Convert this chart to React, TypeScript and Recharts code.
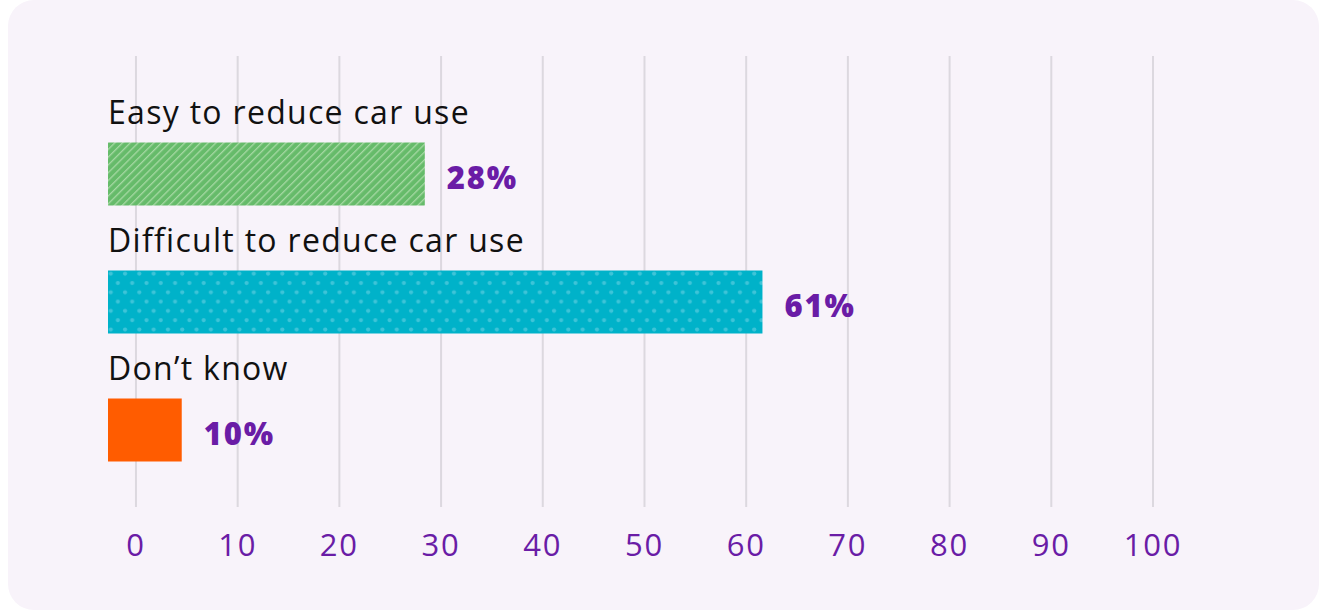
import React from "react";
import { BarChart, Bar, XAxis, YAxis, CartesianGrid, Cell, LabelList } from "recharts";

const categories = ["Easy to reduce car use", "Difficult to reduce car use", "Don\u2019t know"];
const barStarts = [-2.75, -2.75, -2.75];
const barEnds = [28.4, 61.6, 4.5];
const valueLabels = ["28%", "61%", "10%"];
const xTicks = [0, 10, 20, 30, 40, 50, 60, 70, 80, 90, 100];
const fills = ["url(#hatchGreen)", "url(#dotsTeal)", "#ff5c00"];

const data = categories.map((name, i) => ({
  name,
  range: [barStarts[i], barEnds[i]],
  label: valueLabels[i],
}));

const PURPLE = "#6a1ca6";
const FONT = "'Open Sans', Lato, sans-serif";

const CategoryLabel = (props: any) => {
  const { x, y, index } = props;
  return (
    <text x={x} y={y - 19} fill="#111" fontSize={32} fontFamily={FONT} style={{ letterSpacing: 1.3 }}>
      {categories[index]}
    </text>
  );
};

const ValueLabel = (props: any) => {
  const { x, y, width, height, index } = props;
  return (
    <text
      x={x + width + 22}
      y={y + height / 2 + 15}
      fill={PURPLE}
      fontSize={31}
      fontWeight={800}
      fontFamily={FONT}
      style={{ letterSpacing: 1.8 }}
    >
      {valueLabels[index]}
    </text>
  );
};

const gridGen = (props: any) => {
  const axis = props.xAxis;
  if (axis && typeof axis.scale === "function") {
    return xTicks.map((t) => axis.scale(t));
  }
  const { offset } = props;
  const x0 = offset.left;
  const w = offset.width;
  return xTicks.map((t) => x0 + ((t + 2.75) / 102.75) * w);
};

export default function App() {
  return (
    <div style={{ position: "absolute", left: 0, top: 0, width: 1319, height: 611, background: "#fff", overflow: "hidden" }}>
      <svg width={0} height={0} style={{ position: "absolute" }}>
        <defs>
          <pattern id="hatchGreen" patternUnits="userSpaceOnUse" width={5.5} height={5.5} patternTransform="rotate(45)">
            <rect x={0} y={0} width={5.5} height={5.5} fill="#66bb6a" />
            <rect x={0} y={0} width={1.3} height={5.5} fill="#a6d9a4" />
          </pattern>
          <pattern id="dotsTeal" patternUnits="userSpaceOnUse" width={14.3} height={18.6}>
            <rect x={0} y={0} width={14.3} height={18.6} fill="#00b2c9" />
            <circle cx={3.5} cy={4} r={2.1} fill="#3ec4d8" />
            <circle cx={10.65} cy={13.3} r={2.1} fill="#3ec4d8" />
          </pattern>
        </defs>
      </svg>
      <div
        style={{
          position: "absolute",
          left: 8,
          top: 0,
          width: 1311,
          height: 610,
          background: "#f8f3fa",
          borderRadius: 26,
        }}
      />
      <div style={{ position: "absolute", left: 0, top: 0 }}>
        <BarChart
          width={1319}
          height={611}
          data={data}
          layout="vertical"
          margin={{ top: 56, right: 166, bottom: 44, left: 108 }}
          barSize={63}
        >
          <CartesianGrid
            horizontal={false}
            vertical={true}
            stroke="#dcd8df"
            strokeWidth={2}
            verticalCoordinatesGenerator={gridGen}
          />
          <XAxis
            type="number"
            domain={[-2.75, 100]}
            ticks={xTicks}
            axisLine={false}
            tickLine={false}
            tickSize={0}
            tickMargin={27}
            height={60}
            interval={0}
            tick={{ fill: PURPLE, fontSize: 31, fontFamily: FONT, letterSpacing: 1.8 }}
          />
          <YAxis type="category" dataKey="name" hide padding={{ top: 53.5, bottom: 13.5 }} />
          <Bar dataKey="range" isAnimationActive={false}>
            {data.map((d, i) => (
              <Cell key={d.name} fill={fills[i]} />
            ))}
            <LabelList dataKey="name" content={<CategoryLabel />} />
            <LabelList dataKey="label" content={<ValueLabel />} />
          </Bar>
        </BarChart>
      </div>
    </div>
  );
}
